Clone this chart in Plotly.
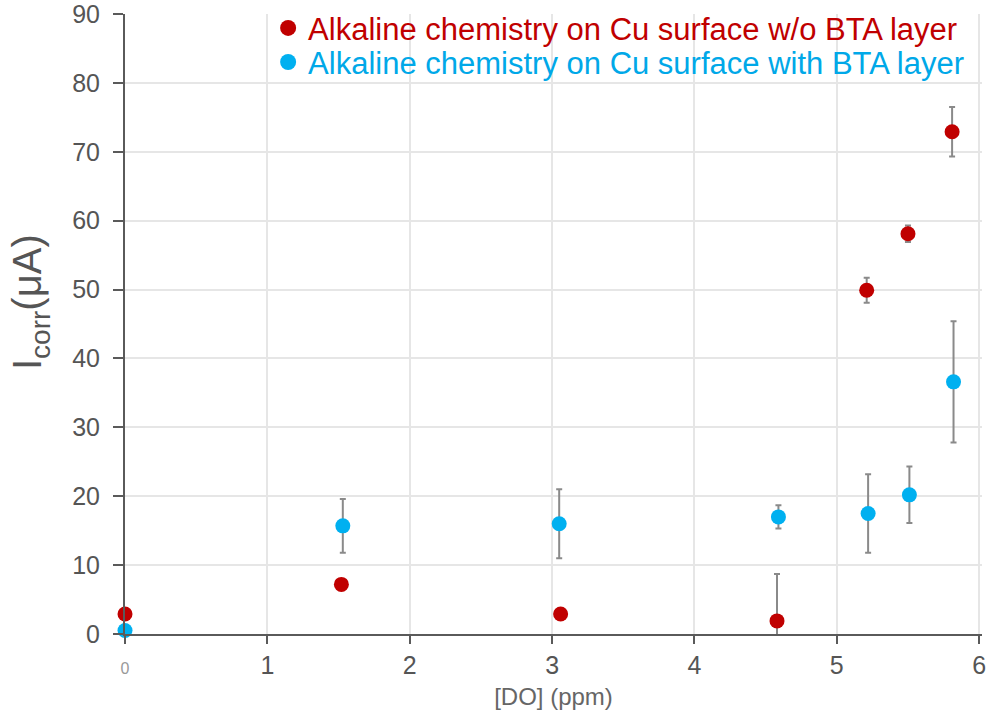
import plotly.graph_objects as go

# Data
do_red = [0.0, 1.52, 3.06, 4.58, 5.21, 5.50, 5.81]
icorr_red = [2.9, 7.2, 2.9, 1.9, 49.9, 58.1, 72.9]
err_red = [0.0, 0.0, 0.0, 6.8, 1.8, 1.2, 3.6]

do_blue = [0.0, 1.53, 3.05, 4.59, 5.22, 5.51, 5.82]
icorr_blue = [0.5, 15.7, 16.0, 17.0, 17.5, 20.2, 36.6]
err_blue = [0.0, 3.9, 5.0, 1.7, 5.7, 4.1, 8.8]

x_ticks = [0, 1, 2, 3, 4, 5, 6]
x_ticktext = ["<span style='font-size:16px;color:#999'>0</span>", "1", "2", "3", "4", "5", "6"]
y_ticks = [0, 10, 20, 30, 40, 50, 60, 70, 80, 90]

name_red = "Alkaline chemistry on Cu surface w/o BTA layer"
name_blue = "Alkaline chemistry on Cu surface with BTA layer"
red = "#C00000"
blue = "#00B0F0"
err_col = "#8a8a8a"

fig = go.Figure()
fig.add_trace(go.Scatter(
    x=do_red, y=icorr_red, mode="markers", showlegend=False,
    marker=dict(color=red, size=15),
    error_y=dict(type="data", array=err_red, visible=True, color=err_col, thickness=2, width=3),
    cliponaxis=False,
))
fig.add_trace(go.Scatter(
    x=do_blue, y=icorr_blue, mode="markers", showlegend=False,
    marker=dict(color=blue, size=15),
    error_y=dict(type="data", array=err_blue, visible=True, color=err_col, thickness=2, width=3),
    cliponaxis=False,
))
# legend entries
fig.add_trace(go.Scatter(
    x=[None], y=[None], mode="markers", legend="legend",
    name="<span style='color:#C00000'>" + name_red + "</span>",
    marker=dict(color=red, size=20),
))
fig.add_trace(go.Scatter(
    x=[None], y=[None], mode="markers", legend="legend2",
    name="<span style='color:#00A8E8'>" + name_blue + "</span>",
    marker=dict(color=blue, size=20),
))

leg_font = dict(size=31, family="Liberation Sans, Arial, sans-serif")
fig.update_layout(
    width=988, height=712,
    margin=dict(l=125, r=6, t=14, b=78, autoexpand=False),
    plot_bgcolor="white", paper_bgcolor="white",
    font=dict(family="Liberation Sans, Arial, sans-serif", color="#555555", size=25),
    showlegend=True,
    legend=dict(
        x=0.167, y=0.977, xanchor="left", yanchor="middle",
        bgcolor="rgba(255,255,255,0)", font=leg_font,
    ),
    legend2=dict(
        x=0.167, y=0.922, xanchor="left", yanchor="middle",
        bgcolor="rgba(255,255,255,0)", font=leg_font,
    ),
    shapes=[dict(
        type="rect", xref="paper", yref="paper",
        x0=0.19, x1=1.0, y0=0.884, y1=0.995,
        fillcolor="white", line=dict(width=0), layer="between",
    )],
    xaxis=dict(
        range=[0, 6.02], tickvals=x_ticks, ticktext=x_ticktext,
        showgrid=True, gridcolor="#e6e6e6", gridwidth=2,
        showline=True, linecolor="#5a5a5a", linewidth=2,
        ticks="outside", ticklen=8, tickwidth=2, tickcolor="#5a5a5a",
        zeroline=False, ticklabeloverflow="allow",
        title=dict(text="[DO] (ppm)", font=dict(size=24, color="#666666"), standoff=10),
    ),
    yaxis=dict(
        range=[0, 90], tickvals=y_ticks,
        showgrid=True, gridcolor="#e6e6e6", gridwidth=2,
        showline=True, linecolor="#5a5a5a", linewidth=2,
        ticks="outside", ticklen=10, tickwidth=2, tickcolor="#5a5a5a",
        ticklabelstandoff=8, ticklabeloverflow="allow",
        zeroline=False,
    ),
    annotations=[dict(
        text="I<sub>corr</sub>(μA)", textangle=-90,
        xref="paper", yref="paper", x=-0.11, y=0.535,
        xanchor="center", yanchor="middle", showarrow=False,
        font=dict(size=40, color="#555555"),
    )],
)

fig.write_html("out.html")
